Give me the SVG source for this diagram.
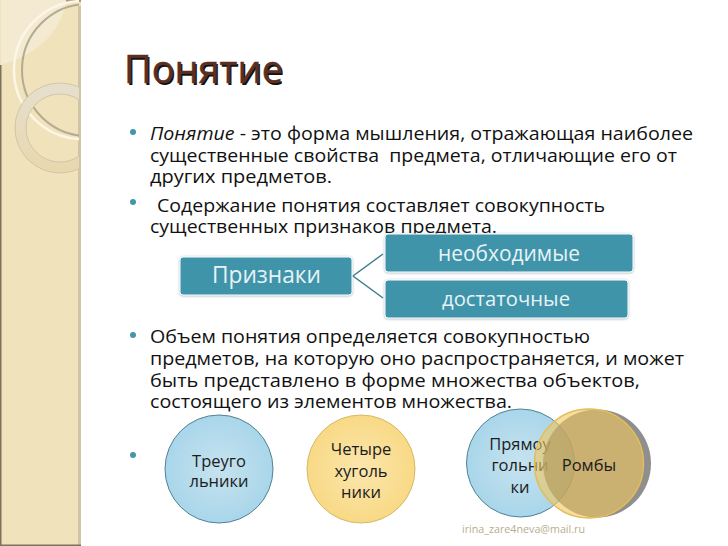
<svg xmlns="http://www.w3.org/2000/svg" width="728" height="546" viewBox="0 0 728 546">
<style>
.b{font-family:"Open Sans","Noto Sans",sans-serif;font-size:18.500px;fill:#111;white-space:pre}
.c{font-family:"Open Sans","Noto Sans",sans-serif;font-size:16.500px;fill:#1c1c1c;text-anchor:middle}
.w{font-family:"Open Sans","Noto Sans",sans-serif;fill:#e6f3f6;text-anchor:middle}
.t{font-family:"Open Sans","Noto Sans",sans-serif;font-size:39px}
.box{fill:#3f94aa;stroke:#fff;stroke-width:1;filter:url(#s)}
.dot{fill:#4596a8}
.con{fill:none;stroke:#3f7f92;stroke-width:1.500}
.ringline{fill:none;stroke:#c9bfa5;stroke-width:0.800}
</style>
<defs>
<filter id="s" x="-5%" y="-15%" width="110%" height="130%"><feDropShadow dx="0" dy="0.500" stdDeviation="1" flood-color="#6a8f9a" flood-opacity="0.700"/></filter>
<radialGradient id="bl"><stop offset="0" stop-color="#c6e3ef"/><stop offset="1" stop-color="#a9d6ea"/></radialGradient>
<radialGradient id="ye"><stop offset="0" stop-color="#fbe6ad"/><stop offset="1" stop-color="#f8d985"/></radialGradient>
<linearGradient id="ring" x1="0" y1="0" x2="0" y2="1"><stop offset="0" stop-color="#e6dfcc"/><stop offset="1" stop-color="#e8d8af"/></linearGradient>
<clipPath id="side"><rect x="1" y="0" width="78" height="546"/></clipPath>
</defs>
<rect width="728" height="546" fill="#fff"/>
<g id="sidebar">
<rect x="0" y="0" width="81" height="546" fill="#f0e2ba"/>
<rect x="0" y="65" width="1.500" height="481" fill="#7d735c"/>
<rect x="78" y="6" width="3" height="540" fill="#cfc5a6"/>
<rect x="0" y="544.500" width="81" height="1.500" fill="#7d735c"/>
<rect x="66" y="0" width="15" height="2" fill="#a59a7e"/>
<g clip-path="url(#side)">
<path d="M0 65 C20 60 32 52 43 43 C55 32 64 17 66 0 L0 0Z" fill="#f4ead2"/>
<circle cx="83" cy="70" r="69" fill="none" stroke="#fbf6e6" stroke-width="2.500"/>
<circle cx="88" cy="70" r="66" fill="none" stroke="#b5aa92" stroke-width="2"/>
<circle cx="60" cy="128" r="39.500" fill="none" stroke="url(#ring)" stroke-width="11"/>
<circle class="ringline" cx="60" cy="128" r="45"/>
<circle class="ringline" cx="60" cy="128" r="34"/>
</g>
</g>
<g id="title">
<text class="t" x="125.500" y="84.500" fill="#111" textLength="159" lengthAdjust="spacingAndGlyphs">Понятие</text>
<text class="t" x="124" y="83" fill="#5a2f22" stroke="#5a2f22" stroke-width="0.500" textLength="159" lengthAdjust="spacingAndGlyphs">Понятие</text>
</g>
<g id="body">
<circle class="dot" cx="133" cy="132" r="3"/>
<text class="b" x="150" y="140" textLength="543" lengthAdjust="spacingAndGlyphs"><tspan font-style="italic">Понятие</tspan> - это форма мышления, отражающая наиболее</text>
<text class="b" x="150" y="162" textLength="527" lengthAdjust="spacingAndGlyphs">существенные свойства  предмета, отличающие его от</text>
<text class="b" x="150" y="183" textLength="182" lengthAdjust="spacingAndGlyphs">других предметов.</text>
<circle class="dot" cx="133" cy="202" r="3"/>
<text class="b" x="157" y="212" textLength="448" lengthAdjust="spacingAndGlyphs">Содержание понятия составляет совокупность</text>
<text class="b" x="150" y="233" textLength="347" lengthAdjust="spacingAndGlyphs">существенных признаков предмета.</text>
<circle class="dot" cx="133" cy="335" r="3"/>
<text class="b" x="150" y="343" textLength="440" lengthAdjust="spacingAndGlyphs">Объем понятия определяется совокупностью</text>
<text class="b" x="150" y="365" textLength="534" lengthAdjust="spacingAndGlyphs">предметов, на которую оно распространяется, и может</text>
<text class="b" x="150" y="387" textLength="490" lengthAdjust="spacingAndGlyphs">быть представлено в форме множества объектов,</text>
<text class="b" x="150" y="408" textLength="362" lengthAdjust="spacingAndGlyphs">состоящего из элементов множества.</text>
<circle class="dot" cx="133" cy="455" r="3"/>
</g>
<g id="connectors">
<path class="con" d="M383 254 L353 276 L383 298"/>
</g>
<g id="priznaki">
<rect class="box" x="180" y="257" width="172" height="38" rx="3"/>
<text class="w" x="266.500" y="283" font-size="23" textLength="109" lengthAdjust="spacingAndGlyphs">Признаки</text>
</g>
<g id="neobhodimye">
<rect class="box" x="385" y="234" width="248" height="38" rx="3"/>
<text class="w" x="509" y="261" font-size="21" textLength="142" lengthAdjust="spacingAndGlyphs">необходимые</text>
</g>
<g id="dostatochnye">
<rect class="box" x="385" y="280" width="243" height="38" rx="3"/>
<text class="w" x="506" y="306" font-size="20" textLength="128" lengthAdjust="spacingAndGlyphs">достаточные</text>
</g>
<g id="treugolniki">
<circle cx="219" cy="469" r="54" fill="url(#bl)" stroke="#4f8296" stroke-width="1"/>
<text class="c" x="219" y="467">Треуго</text>
<text class="c" x="219" y="487">льники</text>
</g>
<g id="chetyrehugolniki">
<circle cx="361" cy="469" r="54" fill="url(#ye)" stroke="#d6b866" stroke-width="1"/>
<text class="c" x="361" y="455">Четыре</text>
<text class="c" x="361" y="477">хуголь</text>
<text class="c" x="361" y="498">ники</text>
</g>
<g id="pryamougolniki">
<circle cx="520.500" cy="463" r="54" fill="url(#bl)" stroke="#4f8296" stroke-width="1"/>
<text class="c" x="520" y="450">Прямоу</text>
<text class="c" x="520" y="471">гольни</text>
<text class="c" x="520" y="493">ки</text>
</g>
<g id="romby">
<circle cx="597" cy="463.500" r="54" fill="#5f5f5f" fill-opacity="0.700"/>
<circle cx="589" cy="463.500" r="54.500" fill="#f2c75e" fill-opacity="0.600" stroke="#e3bd58" stroke-width="1.500"/>
<text class="c" x="589" y="471">Ромбы</text>
</g>
<text id="credit" x="462" y="533" font-family="'Open Sans','Noto Sans',sans-serif" font-size="10.500" fill="#b8ad8c" textLength="123" lengthAdjust="spacingAndGlyphs">irina_zare4neva@mail.ru</text>
</svg>
